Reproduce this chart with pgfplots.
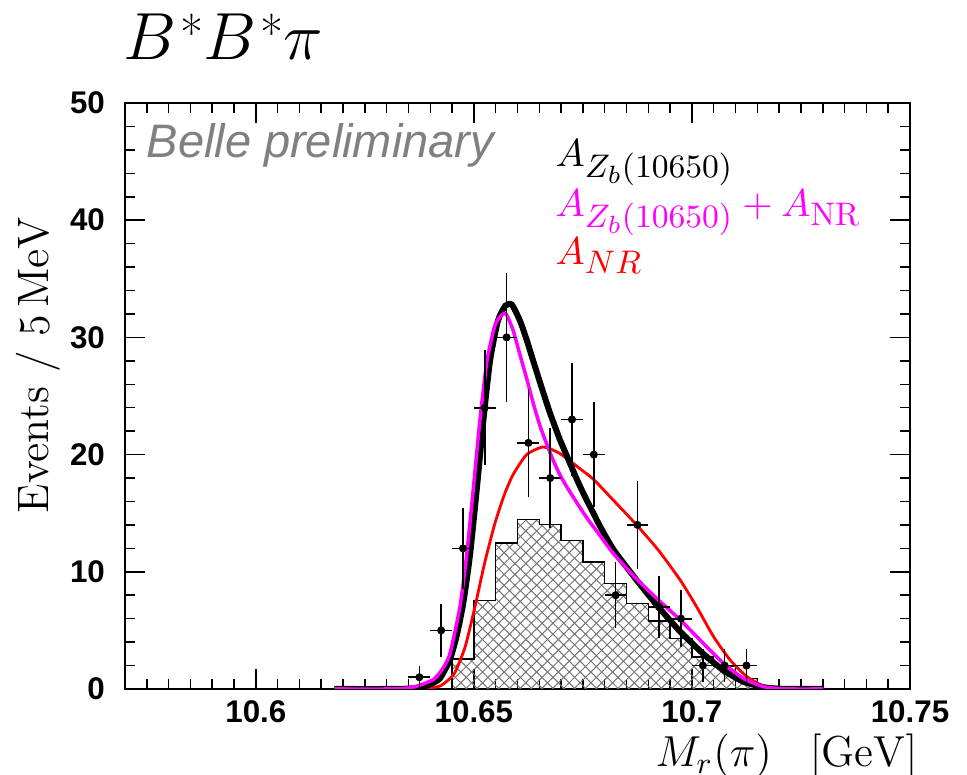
\RequirePackage{fix-cm}
\documentclass[border=0pt]{standalone}
\usepackage{fontspec}
\usepackage{pgfplots}
\pgfplotsset{compat=1.18}
\usetikzlibrary{patterns.meta}
\newfontfamily\helv{Liberation Sans}
\definecolor{belleGray}{gray}{0.5}
\definecolor{fitMagenta}{rgb}{1,0,1}
\definecolor{fitRed}{rgb}{1,0,0}
\definecolor{hatchGray}{gray}{0.45}
% larger subscripts for the legend labels
\DeclareMathSizes{11.7}{11.7}{9.8}{7.5}
% raised star used in the title
\newcommand{\upstar}{\raisebox{2.2pt}[13pt][0pt]{\fontsize{15}{15}\selectfont *}}

% background histogram (5 MeV bins, left edges)
\pgfplotstableread{
x       y
10.645  0
10.645  2.55
10.650  7.55
10.655  12.45
10.660  14.45
10.665  14.05
10.670  12.65
10.675  10.85
10.680  9.0
10.685  7.3
10.690  5.8
10.695  4.3
10.700  2.75
10.705  1.9
10.710  0.9
10.715  0.9
10.715  0
}\bkgtable

% data points with Poisson errors
\pgfplotstableread{
x        y   ey
10.6375  1   1.00
10.6425  5   2.24
10.6475  12  3.46
10.6525  24  4.90
10.6575  30  5.48
10.6625  21  4.58
10.6675  18  4.24
10.6725  23  4.80
10.6775  20  4.47
10.6825  8   2.83
10.6875  14  3.74
10.6925  7   2.65
10.6975  6   2.45
10.7025  2   1.41
10.7075  2   1.41
10.7125  2   1.41
}\datatable

\begin{document}
\begin{tikzpicture}
\useasboundingbox (-37.5pt,-25.8pt) rectangle (252.6pt,206.7pt);
\begin{axis}[
  at={(0pt,0pt)}, anchor=south west,
  scale only axis, width=235.5pt, height=175.8pt,
  xmin=10.57, xmax=10.75, ymin=0, ymax=50,
  axis line style={line width=0.6pt},
  tick style={line width=0.45pt, black},
  tick align=inside, tick pos=both,
  major tick length=6pt, minor tick length=3pt,
  xtick={10.6,10.65,10.7,10.75},
  xticklabels={10.6,10.65,10.7,10.75},
  ytick={0,10,20,30,40,50},
  yticklabels={0,10,20,30,40,50},
  minor xtick={10.575,10.58,...,10.746},
  minor ytick={2,4,...,48},
  ticklabel style={font=\helv\bfseries\fontsize{9.4}{11}\selectfont},
  yticklabel style={xshift=-2.5pt},
  clip=true,
]
% hatched histogram
\addplot[const plot, draw=none, pattern={Lines[angle=45,distance=2.3pt,line width=0.3pt]}, pattern color=hatchGray]
  table[x=x,y=y] {\bkgtable} \closedcycle;
\addplot[const plot, draw=none, pattern={Lines[angle=-45,distance=2.3pt,line width=0.3pt]}, pattern color=hatchGray]
  table[x=x,y=y] {\bkgtable} \closedcycle;
\addplot[const plot, black, line width=0.45pt] table[x=x,y=y] {\bkgtable};

% non-resonant only
\addplot[fitRed, line width=0.85pt, smooth, tension=0.35] coordinates {
(10.618,0) (10.635,0) (10.638,0.03) (10.6400,0.08) (10.6425,0.3) (10.6455,1.3)
(10.6480,3.6) (10.6503,7.1) (10.6525,10.8) (10.6548,14.1) (10.6570,16.6)
(10.6590,18.3) (10.6621,20.0) (10.6659,20.65) (10.6697,20.1) (10.6743,18.8)
(10.6774,17.9) (10.6820,16.1) (10.6873,14.0) (10.6923,11.85) (10.6973,9.3)
(10.7011,7.0) (10.7049,4.5) (10.7087,2.5) (10.7126,1.05) (10.7164,0.26)
(10.7202,0.05) (10.7240,0) (10.730,0)
};
% Zb(10650) only
\addplot[black, line width=1.8pt, smooth, tension=0.35] coordinates {
(10.618,0) (10.630,0) (10.635,0.03) (10.638,0.15) (10.640,0.4) (10.6422,0.9)
(10.6445,2.5) (10.6461,4.6) (10.6476,7.4) (10.6491,11.4) (10.6506,16.8)
(10.6522,23.0) (10.6537,28.0) (10.6555,31.4) (10.6572,32.7) (10.6587,32.8)
(10.6606,31.4) (10.6621,29.8) (10.6636,28.0) (10.6659,25.3) (10.6675,23.5)
(10.6697,21.3) (10.6713,19.9) (10.6736,17.9) (10.6751,16.7) (10.6774,15.0)
(10.6789,13.9) (10.6820,11.9) (10.6873,9.3) (10.6923,7.0) (10.6973,4.9)
(10.7026,3.0) (10.7072,1.6) (10.7118,0.62) (10.7164,0.15) (10.7202,0.02)
(10.7230,0) (10.730,0)
};
% Zb(10650) + non-resonant
\addplot[fitMagenta, line width=1.05pt, smooth, tension=0.35] coordinates {
(10.618,0) (10.630,0) (10.634,0.05) (10.637,0.25) (10.6407,0.8) (10.6428,1.7)
(10.6445,3.0) (10.6468,7.0) (10.6484,11.6) (10.6499,17.2) (10.6514,23.0)
(10.6530,28.0) (10.6548,31.0) (10.6563,31.9) (10.6574,32.0) (10.6590,30.6)
(10.6605,28.6) (10.6621,26.5) (10.6636,24.4) (10.6652,22.4) (10.6667,20.9)
(10.6682,19.5) (10.6697,18.3) (10.6713,17.25) (10.6736,15.9) (10.6759,14.6)
(10.6789,13.1) (10.6820,11.55) (10.6870,9.5) (10.6923,7.6) (10.6973,5.9)
(10.7026,3.9) (10.7072,2.2) (10.7118,0.9) (10.7164,0.2) (10.7202,0.03)
(10.7230,0) (10.730,0)
};

% data
\addplot[only marks, mark=*, mark size=1pt, black,
  error bars/.cd, x dir=both, x fixed=0.0025, y dir=both, y explicit,
  error mark=none, error bar style={line width=0.5pt, black}]
  table[x=x, y=y, y error=ey] {\datatable};
\end{axis}

% texts
\node[anchor=base west, inner sep=0] at (-0.6pt,188.9pt)
  {\fontsize{20}{24}\selectfont
   $B$\kern1.2pt\upstar$B$\kern1.2pt\upstar$\pi$};
\node[anchor=base west, inner sep=0, text=belleGray] at (6.3pt,159.3pt)
  {\helv\itshape\fontsize{14.1}{16}\selectfont Belle preliminary};
\node[anchor=base west, inner sep=0] at (129pt,156.7pt)
  {\fontsize{11.7}{14}\selectfont $A_{Z_b(10650)}$};
\node[anchor=base west, inner sep=0, text=fitMagenta] at (129pt,141.7pt)
  {\fontsize{11.7}{14}\selectfont $A_{Z_b(10650)}+A_{\mathrm{NR}}$};
\node[anchor=base west, inner sep=0, text=fitRed] at (129pt,127.2pt)
  {\fontsize{11.7}{14}\selectfont $A_{NR}$};
\node[rotate=90, anchor=center, inner sep=0] at (-26.1pt,97.2pt)
  {\fontsize{13.2}{15}\selectfont Events $/$ $5\,\mathrm{MeV}$};
\node[anchor=base west, inner sep=0] at (159pt,-23.3pt)
  {\fontsize{13}{15}\selectfont $M_r(\pi)$};
\node[anchor=base east, inner sep=0] at (237.9pt,-23.3pt)
  {\fontsize{13}{15}\selectfont $[\mathrm{GeV}]$};
\end{tikzpicture}
\end{document}
